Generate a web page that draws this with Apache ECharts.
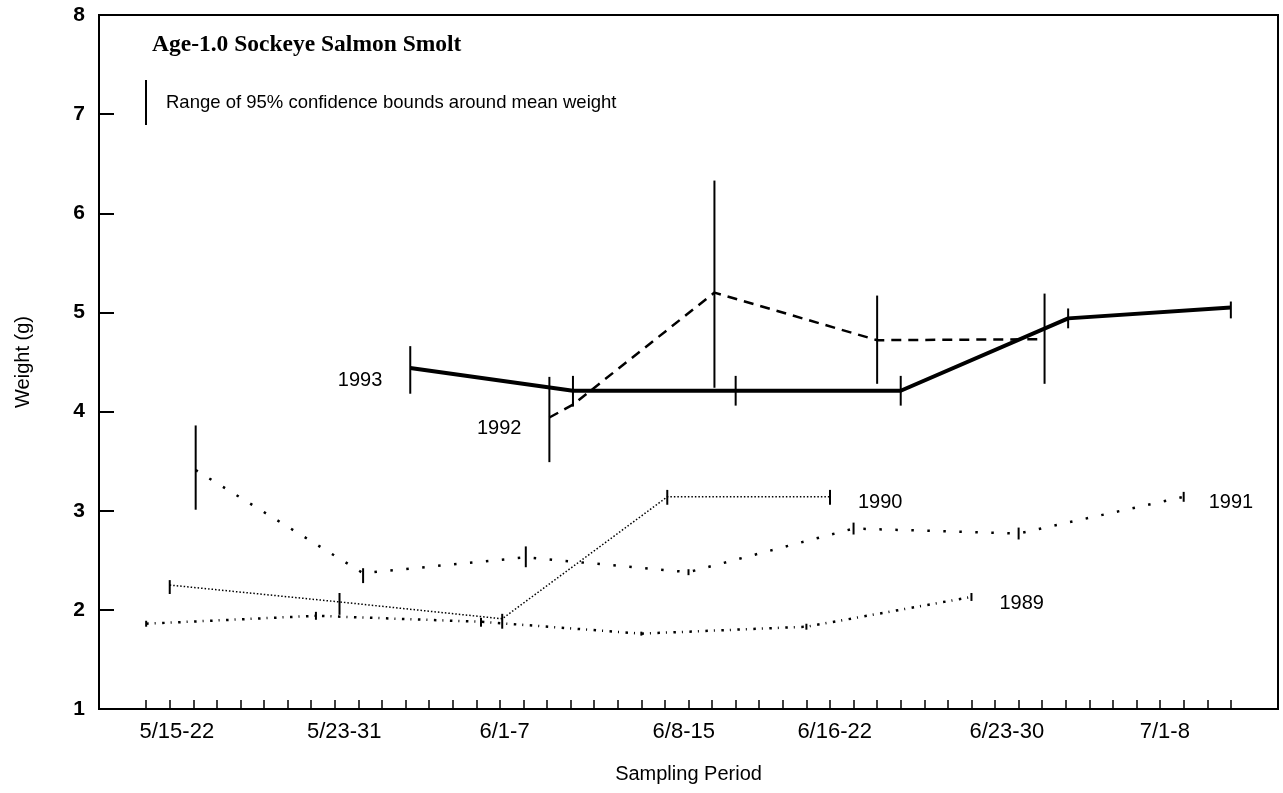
<!DOCTYPE html>
<html>
<head>
<meta charset="utf-8">
<script src="https://cdn.jsdelivr.net/npm/echarts@6/dist/echarts.min.js"></script>
<style>
html,body{margin:0;padding:0;background:#fff;}
#chart{width:1283px;height:793px;}
</style>
</head>
<body>
<div id="chart"></div>
<script>
// ---- Data (x = day since 5/15) ----
const xTickLabels = ['5/15-22', '5/23-31', '6/1-7', '6/8-15', '6/16-22', '6/23-30', '7/1-8'];
const xTickLabelPos = [1.3, 8.4, 15.2, 22.8, 29.2, 36.5, 43.2];

const days1993 = [11.2, 18.1, 25, 32, 39.1, 46];
const mean1993 = [4.44, 4.21, 4.21, 4.21, 4.94, 5.05];
const lo1993   = [4.18, 4.06, 4.06, 4.06, 4.84, 4.94];
const hi1993   = [4.66, 4.36, 4.36, 4.36, 5.04, 5.11];

const days1992 = [17.1, 18.1, 24.1, 31, 38.1];
const mean1992 = [3.94, 4.07, 5.20, 4.72, 4.73];
const lo1992   = [3.49, 4.05, 4.24, 4.28, 4.28];
const hi1992   = [4.35, 4.10, 6.33, 5.17, 5.19];

const days1991 = [2.1, 9.2, 16.1, 23, 30, 37, 44];
const mean1991 = [3.41, 2.37, 2.53, 2.38, 2.82, 2.77, 3.14];
const lo1991   = [3.01, 2.27, 2.43, 2.35, 2.76, 2.71, 3.09];
const hi1991   = [3.86, 2.42, 2.64, 2.41, 2.88, 2.83, 3.19];

const days1990 = [1, 8.2, 15.1, 22.1, 29];
const mean1990 = [2.25, 2.08, 1.91, 3.14, 3.14];
const lo1990   = [2.16, 1.95, 1.81, 3.06, 3.06];
const hi1990   = [2.30, 2.17, 1.96, 3.21, 3.21];

const days1989 = [0, 7.2, 14.2, 21, 28, 35];
const mean1989 = [1.86, 1.94, 1.88, 1.76, 1.83, 2.13];
const lo1989   = [1.83, 1.90, 1.83, 1.74, 1.80, 2.09];
const hi1989   = [1.89, 1.98, 1.92, 1.78, 1.86, 2.17];

const titleText = 'Age-1.0 Sockeye Salmon Smolt';
const legendText = 'Range of 95% confidence bounds around mean weight';

// ---- Build chart ----
const FONT = '"Liberation Sans", Arial, sans-serif';
const cats = [];
for (let i = -20; i <= 480; i++) cats.push(String(i / 10));

function lineData(days, mean, labelIdx, labelOpt) {
  return days.map((d, i) => {
    const item = { value: [d, mean[i]] };
    if (i === labelIdx) item.label = Object.assign({ show: true }, labelOpt);
    return item;
  });
}
function errData(days, lo, hi) {
  return days.map((d, i) => [d, lo[i], hi[i]]);
}
function errSeries(days, lo, hi) {
  return {
    type: 'custom', xAxisIndex: 1, yAxisIndex: 0, silent: true, z: 5,
    data: errData(days, lo, hi),
    encode: { x: 0, y: [1, 2] },
    renderItem: function (params, api) {
      const p1 = api.coord([api.value(0), api.value(1)]);
      const p2 = api.coord([api.value(0), api.value(2)]);
      return { type: 'line', shape: { x1: p1[0], y1: p1[1], x2: p2[0], y2: p2[1] },
               style: { stroke: '#000', lineWidth: 2 } };
    }
  };
}
function lineSeries(name, days, mean, style, labelIdx, labelOpt) {
  return {
    name: name, type: 'line', xAxisIndex: 1, yAxisIndex: 0,
    data: lineData(days, mean, labelIdx, labelOpt),
    symbol: 'circle', symbolSize: 0, showSymbol: true,
    itemStyle: { color: '#000' },
    lineStyle: Object.assign({ color: '#000' }, style),
    label: { color: '#000', fontFamily: FONT, fontSize: 20 },
    silent: true, z: 4, animation: false
  };
}

const chart = echarts.init(document.getElementById('chart'), null, { renderer: 'canvas' });
chart.setOption({
  animation: false,
  backgroundColor: '#fff',
  title: {
    text: titleText, left: 152, top: 33, padding: 0,
    textStyle: { fontFamily: '"Liberation Serif", "Times New Roman", serif', fontWeight: 'bold', fontSize: 23.5, color: '#000' }
  },
  legend: {
    left: 145, top: 80, itemWidth: 2, itemHeight: 45, padding: 0,
    data: [{ name: legendText, icon: 'rect', itemStyle: { color: '#000', opacity: 1 } }],
    itemStyle: { color: '#000' },
    textStyle: { fontFamily: FONT, fontSize: 18.5, color: '#000', padding: [0, 0, 0, 14] },
    selectedMode: false
  },
  grid: { left: 99, right: 5, top: 15, bottom: 84, show: true, borderColor: '#000', borderWidth: 2 },
  xAxis: [
    {
      type: 'category', data: cats, boundaryGap: false, position: 'bottom',
      axisLine: { onZero: false, lineStyle: { color: '#000', width: 2 } },
      axisTick: { inside: true, length: 9, lineStyle: { color: '#000', width: 1.5 },
        interval: function (idx, val) { const v = Number(val); return Number.isInteger(v) && v >= 0 && v <= 46; } },
      axisLabel: {
        interval: function (idx, val) { return xTickLabelPos.indexOf(Number(val)) >= 0; },
        formatter: function (val) { const k = xTickLabelPos.indexOf(Number(val)); return k >= 0 ? xTickLabels[k] : ''; },
        fontFamily: FONT, fontSize: 22, color: '#000', margin: 12
      },
      name: 'Sampling Period', nameLocation: 'middle', nameGap: 55,
      nameTextStyle: { fontFamily: FONT, fontSize: 20, color: '#000' },
      splitLine: { show: false }
    },
    { type: 'value', min: -2, max: 48, show: false }
  ],
  yAxis: {
    type: 'value', min: 1, max: 8, interval: 1,
    axisLine: { show: true, onZero: false, lineStyle: { color: '#000', width: 2 } },
    axisTick: { show: true, inside: true, length: 15, lineStyle: { color: '#000', width: 2 } },
    axisLabel: { fontFamily: FONT, fontSize: 21, fontWeight: 'bold', color: '#000', margin: 14 },
    splitLine: { show: false },
    name: 'Weight (g)', nameLocation: 'middle', nameGap: 66,
    nameTextStyle: { fontFamily: FONT, fontSize: 20, color: '#000' }
  },
  series: [
    { name: legendText, type: 'line', xAxisIndex: 1, data: [], itemStyle: { color: '#000' },
      lineStyle: { color: '#000' } },
    lineSeries('1993', days1993, mean1993, { width: 4, type: 'solid' }, 0,
      { formatter: '1993', position: 'left', distance: 28, offset: [0, 13] }),
    lineSeries('1992', days1992, mean1992, { width: 2.5, type: [10, 7] }, 0,
      { formatter: '1992', position: 'left', distance: 28, offset: [0, 11] }),
    lineSeries('1991', days1991, mean1991, { width: 2.5, type: [2.5, 13.5] }, 6,
      { formatter: '1991', position: 'right', distance: 25, offset: [0, 6] }),
    lineSeries('1990', days1990, mean1990, { width: 1.5, type: [1.5, 2] }, 4,
      { formatter: '1990', position: 'right', distance: 28, offset: [0, 6] }),
    lineSeries('1989', days1989, mean1989, { width: 2.5, type: [2.5, 6, 1, 6.5] }, 5,
      { formatter: '1989', position: 'right', distance: 28, offset: [0, 7] }),
    errSeries(days1993, lo1993, hi1993),
    errSeries(days1992, lo1992, hi1992),
    errSeries(days1991, lo1991, hi1991),
    errSeries(days1990, lo1990, hi1990),
    errSeries(days1989, lo1989, hi1989)
  ]
});
</script>
</body>
</html>
